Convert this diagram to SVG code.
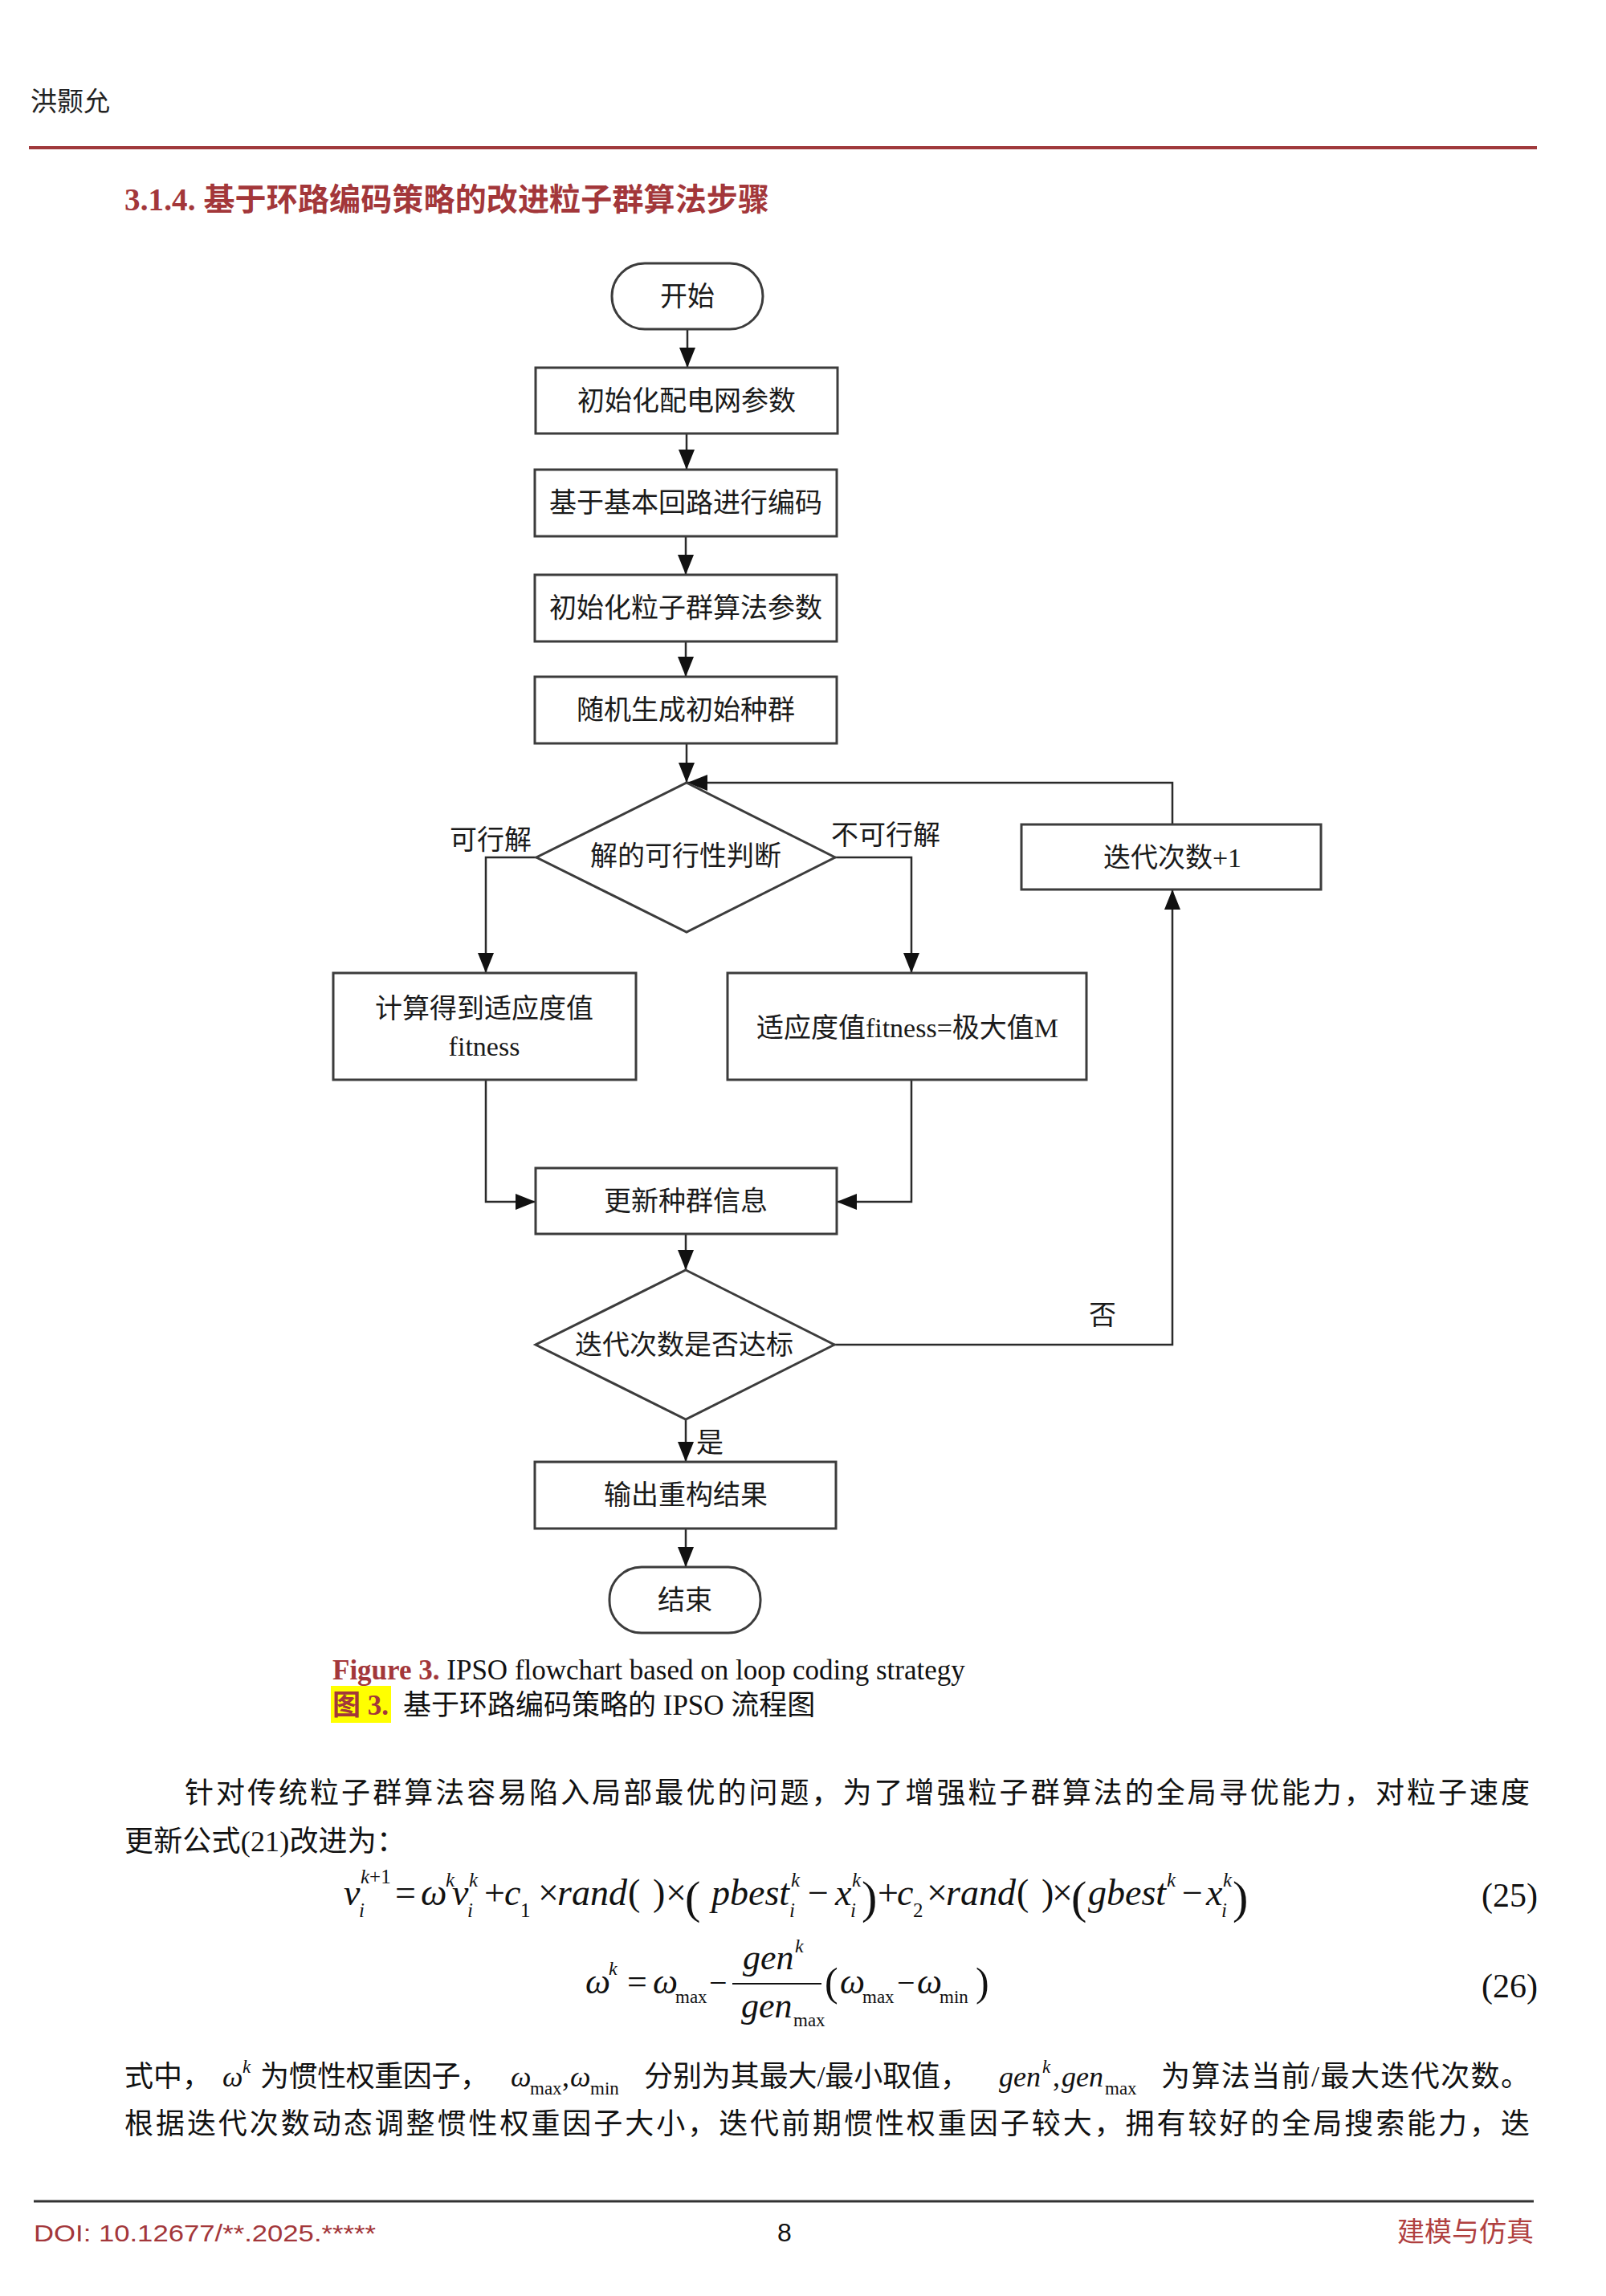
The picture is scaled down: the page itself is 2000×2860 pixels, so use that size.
<svg xmlns="http://www.w3.org/2000/svg" width="2000" height="2860" viewBox="0 0 2000 2860">
<defs>
<marker id="ah" markerUnits="userSpaceOnUse" markerWidth="25" markerHeight="20" viewBox="0 0 25 20" refX="25" refY="10" orient="auto">
<path d="M0,0 L25,10 L0,20 z" fill="#111"/>
</marker>
<style>
.bg{fill:#fff}
.shp{fill:#fff;stroke:#3c3c3c;stroke-width:3}
.arr{fill:none;stroke:#2a2a2a;stroke-width:2.5;marker-end:url(#ah)}
.ft{font-family:"Liberation Serif","Noto Sans CJK SC",serif;font-size:34px;fill:#1a1a1a;text-anchor:middle;dominant-baseline:central}
.lb{font-family:"Liberation Serif","Noto Sans CJK SC",serif;font-size:34px;fill:#1a1a1a;text-anchor:middle;dominant-baseline:central}
.body{font-family:"Liberation Serif","Noto Sans CJK SC",serif;font-size:36px;fill:#111}
.eq{font-family:"Liberation Serif","Noto Sans CJK SC",serif;font-size:46px;fill:#111}
.eq2{font-family:"Liberation Serif","Noto Sans CJK SC",serif;font-size:44px;fill:#111}
.it{font-style:italic}
.sm{font-size:25px}
.sm3{font-size:24px}
.sm2{font-size:23px}
</style>
</defs>
<rect class="bg" x="0" y="0" width="2000" height="2860"/>

<!-- page header -->
<text x="38" y="138" font-family="'Noto Sans CJK SC',sans-serif" font-size="33" fill="#222">洪颢允</text>
<line x1="36" y1="184" x2="1914" y2="184" stroke="#a0393c" stroke-width="4"/>
<text x="155" y="262" font-family="'Liberation Serif','Noto Sans CJK SC',serif" font-size="39" font-weight="bold" fill="#a3373a" textLength="803" lengthAdjust="spacing">3.1.4. 基于环路编码策略的改进粒子群算法步骤</text>

<!-- connectors -->
<g id="connectors">
<line class="arr" x1="856" y1="410" x2="856" y2="458"/>
<line class="arr" x1="855" y1="540" x2="855" y2="585"/>
<line class="arr" x1="854" y1="668" x2="854" y2="716"/>
<line class="arr" x1="854" y1="799" x2="854" y2="843"/>
<line class="arr" x1="855" y1="926" x2="855" y2="975"/>
<polyline class="arr" points="1460,1027 1460,975 856,975"/>
<polyline class="arr" points="668,1068 605,1068 605,1212"/>
<polyline class="arr" points="1040,1068 1135,1068 1135,1212"/>
<polyline class="arr" points="605,1345 605,1497 667,1497"/>
<polyline class="arr" points="1135,1345 1135,1497 1042,1497"/>
<line class="arr" x1="854" y1="1537" x2="854" y2="1582"/>
<polyline class="arr" points="1039,1675 1460,1675 1460,1108"/>
<line class="arr" x1="854" y1="1768" x2="854" y2="1821"/>
<line class="arr" x1="854" y1="1904" x2="854" y2="1952"/>
<text class="lb" x="611" y="1046">可行解</text>
<text class="lb" x="1103" y="1040">不可行解</text>
<text class="lb" x="1373" y="1638">否</text>
<text class="lb" x="884" y="1797">是</text>
</g>

<!-- nodes -->
<g id="start">
<rect class="shp" x="762" y="328" width="188" height="82" rx="41"/>
<text class="ft" x="856" y="369">开始</text>
</g>
<g id="init-grid">
<rect class="shp" x="667" y="458" width="376" height="82"/>
<text class="ft" x="855" y="499">初始化配电网参数</text>
</g>
<g id="encode">
<rect class="shp" x="666" y="585" width="376" height="83"/>
<text class="ft" x="854" y="626">基于基本回路进行编码</text>
</g>
<g id="init-pso">
<rect class="shp" x="666" y="716" width="376" height="83"/>
<text class="ft" x="854" y="757">初始化粒子群算法参数</text>
</g>
<g id="gen-pop">
<rect class="shp" x="666" y="843" width="376" height="83"/>
<text class="ft" x="854" y="884">随机生成初始种群</text>
</g>
<g id="feasible">
<polygon class="shp" points="855,975 1040,1068 855,1161 668,1068"/>
<text class="ft" x="854" y="1066">解的可行性判断</text>
</g>
<g id="iter-inc">
<rect class="shp" x="1272" y="1027" width="373" height="81"/>
<text class="ft" x="1460" y="1068">迭代次数+1</text>
</g>
<g id="calc-fit">
<rect class="shp" x="415" y="1212" width="377" height="133"/>
<text class="ft" x="603" y="1256">计算得到适应度值</text>
<text class="ft" x="603" y="1303">fitness</text>
</g>
<g id="max-fit">
<rect class="shp" x="906" y="1212" width="447" height="133"/>
<text class="ft" x="1130" y="1280">适应度值fitness=极大值M</text>
</g>
<g id="update">
<rect class="shp" x="667" y="1455" width="375" height="82"/>
<text class="ft" x="854" y="1496">更新种群信息</text>
</g>
<g id="check-iter">
<polygon class="shp" points="854,1582 1039,1675 854,1768 667,1675"/>
<text class="ft" x="852" y="1675">迭代次数是否达标</text>
</g>
<g id="output">
<rect class="shp" x="666" y="1821" width="375" height="83"/>
<text class="ft" x="854" y="1862">输出重构结果</text>
</g>
<g id="end">
<rect class="shp" x="759" y="1952" width="188" height="82" rx="40"/>
<text class="ft" x="853" y="1993">结束</text>
</g>

<!-- caption -->
<text x="414" y="2092" font-family="'Liberation Serif',serif" font-size="35" fill="#111"><tspan font-weight="bold" fill="#a3373a">Figure 3.</tspan> IPSO flowchart based on loop coding strategy</text>
<rect x="412" y="2100" width="75" height="46" fill="#ffff00"/>
<text x="414" y="2136" font-family="'Liberation Serif','Noto Sans CJK SC',serif" font-size="35" font-weight="bold" fill="#a3373a">图 3.</text>
<text x="502" y="2136" font-family="'Liberation Serif','Noto Sans CJK SC',serif" font-size="35" fill="#111">基于环路编码策略的 IPSO 流程图</text>

<!-- body text -->
<text class="body" x="230" y="2246" textLength="1675" lengthAdjust="spacing">针对传统粒子群算法容易陷入局部最优的问题，为了增强粒子群算法的全局寻优能力，对粒子速度</text>
<text class="body" x="155" y="2306" textLength="350" lengthAdjust="spacing">更新公式(21)改进为：</text>

<!-- equation 25 -->
<g class="eq">
<text x="428" y="2373" class="it">v</text>
<text x="449" y="2346" class="sm"><tspan class="it">k</tspan>+1</text>
<text x="447" y="2388" class="sm it">i</text>
<text x="492" y="2373">=</text>
<text x="524" y="2373" class="it">ω</text>
<text x="555" y="2350" class="sm it">k</text>
<text x="563" y="2373" class="it">v</text>
<text x="584" y="2350" class="sm it">k</text>
<text x="582" y="2388" class="sm it">i</text>
<text x="603" y="2373">+</text>
<text x="628" y="2373" class="it">c</text>
<text x="648" y="2388" class="sm">1</text>
<text x="670" y="2373">×</text>
<text x="694" y="2373" class="it">rand</text>
<text x="782" y="2373">(</text>
<text x="813" y="2373">)</text>
<text x="829" y="2373">×</text>
<text x="853" y="2383" font-size="58">(</text>
<text x="886" y="2373" class="it">pbest</text>
<text x="985" y="2350" class="sm it">k</text>
<text x="983" y="2388" class="sm it">i</text>
<text x="1006" y="2373">−</text>
<text x="1040" y="2373" class="it">x</text>
<text x="1061" y="2350" class="sm it">k</text>
<text x="1059" y="2388" class="sm it">i</text>
<text x="1073" y="2383" font-size="58">)</text>
<text x="1093" y="2373">+</text>
<text x="1117" y="2373" class="it">c</text>
<text x="1137" y="2388" class="sm">2</text>
<text x="1154" y="2373">×</text>
<text x="1178" y="2373" class="it">rand</text>
<text x="1266" y="2373">(</text>
<text x="1297" y="2373">)</text>
<text x="1310" y="2373">×</text>
<text x="1334" y="2383" font-size="58">(</text>
<text x="1355" y="2373" class="it">gbest</text>
<text x="1453" y="2350" class="sm it">k</text>
<text x="1472" y="2373">−</text>
<text x="1502" y="2373" class="it">x</text>
<text x="1523" y="2350" class="sm it">k</text>
<text x="1521" y="2388" class="sm it">i</text>
<text x="1535" y="2383" font-size="58">)</text>
<text x="1845" y="2375" font-size="42">(25)</text>
</g>

<!-- equation 26 -->
<g class="eq2">
<text x="729" y="2483" class="it">ω</text>
<text x="758" y="2460" class="sm3 it">k</text>
<text x="781" y="2483">=</text>
<text x="813" y="2483" class="it">ω</text>
<text x="841" y="2495" class="sm2">max</text>
<text x="883" y="2483" font-size="40">−</text>
<line x1="912" y1="2471" x2="1023" y2="2471" stroke="#111" stroke-width="2"/>
<text x="925" y="2453" class="it">gen</text>
<text x="990" y="2432" class="sm3 it">k</text>
<text x="923" y="2513" class="it">gen</text>
<text x="988" y="2524" class="sm2">max</text>
<text x="1027" y="2486" font-size="50">(</text>
<text x="1046" y="2483" class="it">ω</text>
<text x="1074" y="2495" class="sm2">max</text>
<text x="1117" y="2483" font-size="40">−</text>
<text x="1142" y="2483" class="it">ω</text>
<text x="1170" y="2495" class="sm2">min</text>
<text x="1215" y="2486" font-size="50">)</text>
<text x="1845" y="2488" font-size="42">(26)</text>
</g>

<!-- explanation -->
<text class="body" x="155" y="2599">式中，</text>
<text class="body it" x="277" y="2599">ω</text>
<text class="body it sm2" x="302" y="2582">k</text>
<text class="body" x="324" y="2599" textLength="285" lengthAdjust="spacing">为惯性权重因子，</text>
<text class="body it" x="636" y="2599">ω</text>
<text class="body sm2" x="660" y="2609">max</text>
<text class="body" x="700" y="2599">,</text>
<text class="body it" x="710" y="2599">ω</text>
<text class="body sm2" x="735" y="2609">min</text>
<text class="body" x="802" y="2599" textLength="405" lengthAdjust="spacing">分别为其最大/最小取值，</text>
<text class="body it" x="1244" y="2599">gen</text>
<text class="body it sm2" x="1298" y="2582">k</text>
<text class="body" x="1311" y="2599">,</text>
<text class="body it" x="1322" y="2599">gen</text>
<text class="body sm2" x="1376" y="2609">max</text>
<text class="body" x="1446" y="2599" textLength="459" lengthAdjust="spacing">为算法当前/最大迭代次数。</text>
<text class="body" x="155" y="2658" textLength="1750" lengthAdjust="spacing">根据迭代次数动态调整惯性权重因子大小，迭代前期惯性权重因子较大，拥有较好的全局搜索能力，迭</text>

<!-- footer -->
<line x1="42" y1="2742" x2="1910" y2="2742" stroke="#333" stroke-width="3"/>
<text x="42" y="2792" font-family="'Liberation Sans',sans-serif" font-size="30" fill="#a3373a" textLength="426" lengthAdjust="spacingAndGlyphs">DOI: 10.12677/**.2025.*****</text>
<text x="977" y="2792" font-family="'Liberation Sans',sans-serif" font-size="32" fill="#111" text-anchor="middle">8</text>
<text x="1910" y="2792" font-family="'Noto Sans CJK SC',sans-serif" font-size="34" fill="#b0403f" text-anchor="end">建模与仿真</text>
</svg>
